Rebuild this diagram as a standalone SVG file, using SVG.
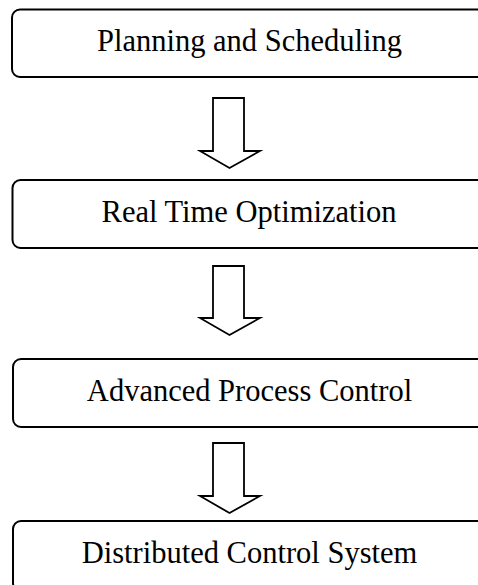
<svg xmlns="http://www.w3.org/2000/svg" width="478" height="585" viewBox="0 0 478 585">
<style>
.box{fill:#fff;stroke:#000;stroke-width:2}
.lbl{font-family:"Liberation Serif","Times New Roman",serif;font-size:30.5px;fill:#000;text-anchor:middle}
.arr{fill:#fff;stroke:#000;stroke-width:1.8;stroke-linejoin:miter}
</style>
<rect x="0" y="0" width="478" height="585" fill="#fff"/>
<g id="node-planning">
<rect class="box" x="12" y="9.5" width="475" height="67.5" rx="8"/>
<text class="lbl" x="249.5" y="51">Planning and Scheduling</text>
</g>
<g id="node-rto">
<rect class="box" x="12.5" y="180" width="475" height="68" rx="8"/>
<text class="lbl" x="249" y="222">Real Time Optimization</text>
</g>
<g id="node-apc">
<rect class="box" x="13" y="359" width="475" height="68" rx="8"/>
<text class="lbl" x="249.5" y="401">Advanced Process Control</text>
</g>
<g id="node-dcs">
<rect class="box" x="13" y="521" width="475" height="70" rx="8"/>
<text class="lbl" x="249.5" y="563">Distributed Control System</text>
</g>
<g id="connectors">
<path class="arr" d="M213,98 H244 V151 H260 L229.5,168 L200,151 H213 Z"/>
<path class="arr" d="M213,266 H244 V318 H260 L229.5,335 L200,318 H213 Z"/>
<path class="arr" d="M213,443 H244 V496 H260 L229.5,513 L200,496 H213 Z"/>
</g>
</svg>
